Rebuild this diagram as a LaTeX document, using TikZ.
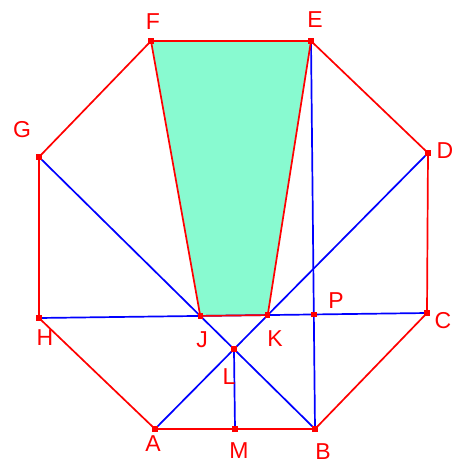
\documentclass[tikz,border=0pt]{standalone}
\usepackage{fontspec}
\setmainfont{Liberation Sans}
\definecolor{aquafill}{RGB}{136,250,208}
\definecolor{pred}{RGB}{255,0,0}
\definecolor{pblue}{RGB}{0,0,255}
\begin{document}
\begin{tikzpicture}[x=1pt,y=-1pt,
  redline/.style={draw=pred,line width=1.7pt},
  blueline/.style={draw=pblue,line width=1.7pt},
  pt/.style={fill=pred,inner sep=0pt,minimum size=5.5pt,rectangle},
  lbl/.style={text=pred,font=\fontsize{23}{23}\selectfont,inner sep=0pt}]
\useasboundingbox (0,0) rectangle (454,466);
\coordinate (F) at (151,41);
\coordinate (E) at (311,41);
\coordinate (D) at (428,153);
\coordinate (C) at (427,313);
\coordinate (B) at (315,429);
\coordinate (A) at (155,429);
\coordinate (H) at (39,318);
\coordinate (G) at (39,157);
\coordinate (M) at (235,429);
\coordinate (J) at (intersection of G--B and H--C);
\coordinate (K) at (intersection of A--D and H--C);
\coordinate (L) at (intersection of G--B and A--D);
\coordinate (P) at (intersection of E--B and H--C);
% filled trapezoid
\fill[aquafill] (F) -- (E) -- (K) -- (J) -- cycle;
% octagon
\draw[redline] (A) -- (M) -- (B) -- (C) -- (D) -- (E) -- (F) -- (G) -- (H) -- cycle;
% blue lines
\draw[blueline] (H) -- (C);
\draw[blueline] (G) -- (B);
\draw[blueline] (A) -- (D);
\draw[blueline] (E) -- (B);
\draw[blueline] (L) -- (M);
% trapezoid edges
\draw[redline] (F) -- (J) -- (K) -- (E);
% points
\foreach \p in {A,B,C,D,E,F,G,H,J,K,L,M,P} \node[pt] (pt\p) at (\p) {};
% labels
\node[lbl] (lF) at (153,22) {F};
\node[lbl] (lE) at (315,20) {E};
\node[lbl] (lG) at (22,130) {G};
\node[lbl] (lD) at (445,151) {D};
\node[lbl] (lH) at (45,338) {H};
\node[lbl] (lC) at (443,321) {C};
\node[lbl] (lA) at (153,444) {A};
\node[lbl] (lM) at (239,451) {M};
\node[lbl] (lB) at (323,452) {B};
\node[lbl] (lJ) at (202,340) {J};
\node[lbl] (lK) at (275,339) {K};
\node[lbl] (lL) at (229,377) {L};
\node[lbl] (lP) at (336,301) {P};
\end{tikzpicture}
\end{document}
